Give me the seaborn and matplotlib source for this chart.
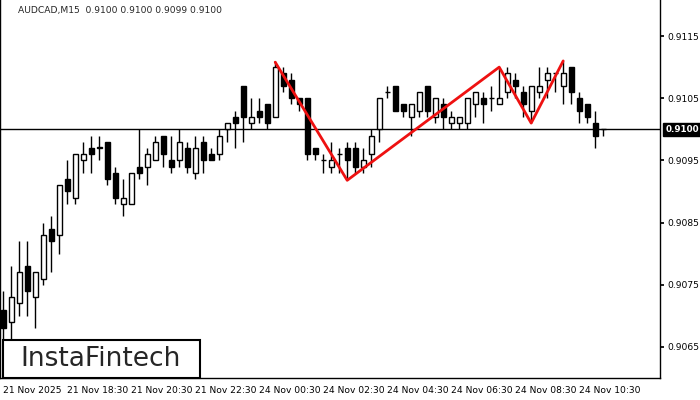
import matplotlib
matplotlib.use('Agg')
import matplotlib.pyplot as plt
from matplotlib.patches import Rectangle
import seaborn as sns
import numpy as np

# AUDCAD M15 candles
opens = [.9071, .9069, .9072, .9078, .9073, .9076, .9084, .9083, .9092, .9089,
         .9095, .9097, .9097, .9098, .9093, .9088, .9088, .9094, .9094, .9095,
         .9099, .9095, .9095, .9097, .9093, .9098, .9096, .9096, .9100, .9102,
         .9107, .9101, .9103, .9104, .9102, .9109, .9108, .9105, .9105, .9097,
         .9095, .9094, .9096, .9097, .9097, .9094, .9096, .9100, .9106, .9107,
         .9104, .9102, .9103, .9107, .9102, .9104, .9101, .9101, .9101, .9104,
         .9105, .9105, .9104, .9106, .9108, .9106, .9103, .9106, .9108, .9109,
         .9107, .9110, .9105, .9104, .9101, .9100]
closes = [.9068, .9073, .9077, .9074, .9077, .9083, .9082, .9091, .9090, .9096,
          .9096, .9096, .9097, .9092, .9089, .9089, .9093, .9093, .9096, .9098,
          .9096, .9094, .9098, .9094, .9097, .9095, .9095, .9099, .9101, .9101,
          .9102, .9102, .9102, .9101, .9110, .9107, .9105, .9104, .9096, .9096,
          .9095, .9095, .9096, .9095, .9094, .9095, .9099, .9105, .9106, .9103,
          .9103, .9104, .9106, .9103, .9105, .9102, .9102, .9102, .9105, .9106,
          .9104, .9105, .9105, .9109, .9107, .9104, .9107, .9107, .9109, .9109,
          .9109, .9106, .9103, .9102, .9099, .9100]
highs = [.9074, .9078, .9082, .9082, .9077, .9085, .9086, .9091, .9095, .9096,
         .9098, .9099, .9099, .9098, .9094, .9092, .9093, .9100, .9097, .9099,
         .9099, .9099, .9100, .9098, .9099, .9099, .9097, .9100, .9101, .9103,
         .9107, .9105, .9105, .9104, .9111, .9110, .9109, .9105, .9105, .9097,
         .9096, .9098, .9097, .9098, .9098, .9097, .9100, .9105, .9107, .9107,
         .9104, .9104, .9106, .9107, .9105, .9105, .9103, .9102, .9105, .9106,
         .9106, .9107, .9110, .9110, .9109, .9107, .9107, .9110, .9110, .9109,
         .9111, .9110, .9106, .9104, .9103, .9100]
lows = [.9064, .9066, .9070, .9070, .9068, .9075, .9077, .9080, .9088, .9088,
        .9093, .9093, .9095, .9091, .9088, .9086, .9088, .9092, .9091, .9095,
        .9094, .9093, .9094, .9093, .9092, .9093, .9095, .9095, .9098, .9097,
        .9098, .9100, .9101, .9100, .9102, .9106, .9104, .9103, .9095, .9095,
        .9093, .9093, .9093, .9092, .9093, .9093, .9094, .9098, .9105, .9103,
        .9102, .9099, .9102, .9102, .9101, .9100, .9100, .9100, .9100, .9102,
        .9101, .9103, .9104, .9105, .9105, .9102, .9101, .9105, .9105, .9106,
        .9104, .9104, .9101, .9101, .9097, .9099]

tick_idx = [0, 8, 16, 24, 32, 40, 48, 56, 64, 72]
tick_labels = ['21 Nov 2025', '21 Nov 18:30', '21 Nov 20:30', '21 Nov 22:30',
               '24 Nov 00:30', '24 Nov 02:30', '24 Nov 04:30', '24 Nov 06:30',
               '24 Nov 08:30', '24 Nov 10:30']
price_ticks = [0.9065, 0.9075, 0.9085, 0.9095, 0.9105, 0.9115]

# triple top pattern
pattern_idx = [34, 43, 62, 66, 70]
pattern_price = [0.91108, 0.90918, 0.9110, 0.9101, 0.9111]
last_price = 0.9100

sns.set_theme(style='white')
plt.rcParams['font.family'] = ['DejaVu Sans']

fig = plt.figure(figsize=(7, 4), dpi=100)
ax = fig.add_axes([0, 22 / 400, 660 / 700, 378 / 400])

x = np.arange(len(opens))
o = np.array(opens); c = np.array(closes)
ax.vlines(x, lows, highs, color='black', lw=1, zorder=2)
bottoms = np.minimum(o, c)
heights = np.maximum(np.abs(c - o), 0.000008)
colors = ['white' if cc >= oo else 'black' for oo, cc in zip(o, c)]
ax.bar(x, heights, bottom=bottoms, width=0.62, color=colors,
       edgecolor='black', linewidth=1, zorder=3)

ax.axhline(last_price, color='black', lw=1, zorder=1)
ax.plot(pattern_idx, pattern_price, color='#ee1111', lw=2, zorder=4)

ax.set_xlim(-0.4, 82.1)
ax.set_ylim(0.90600, 0.91208)
ax.set_xticks(tick_idx)
ax.set_xticklabels(tick_labels, fontsize=6.6, ha='left')
ax.yaxis.tick_right()
ax.set_yticks(price_ticks)
ax.set_yticklabels([f'{p:.4f}' for p in price_ticks], fontsize=6.6)
ax.tick_params(axis='both', length=3, color='black', pad=2, labelcolor='black')
ax.tick_params(axis='x', pad=3)
for s in ax.spines.values():
    s.set_color('black'); s.set_linewidth(1)
ax.spines['top'].set_visible(False)

ax.text(1.008, last_price, f'{last_price:.4f}', transform=ax.get_yaxis_transform(),
        fontsize=6.3, color='white', weight='bold', va='center', ha='left',
        bbox=dict(boxstyle='square,pad=0.25', fc='black', ec='black'), clip_on=False)

fig.text(18 / 700, 1 - 10 / 400, 'AUDCAD,M15  0.9100 0.9100 0.9099 0.9100',
         fontsize=6.6, va='center', ha='left')

fig.patches.append(Rectangle((3 / 700, 22 / 400), 197 / 700, 38 / 400,
                             transform=fig.transFigure, fc='white', ec='black', lw=1.5, zorder=10))
fig.text(101 / 700, 41 / 400, 'InstaFintech', fontsize=19, ha='center', va='center', zorder=11)

fig.savefig('out.png', dpi=100)
